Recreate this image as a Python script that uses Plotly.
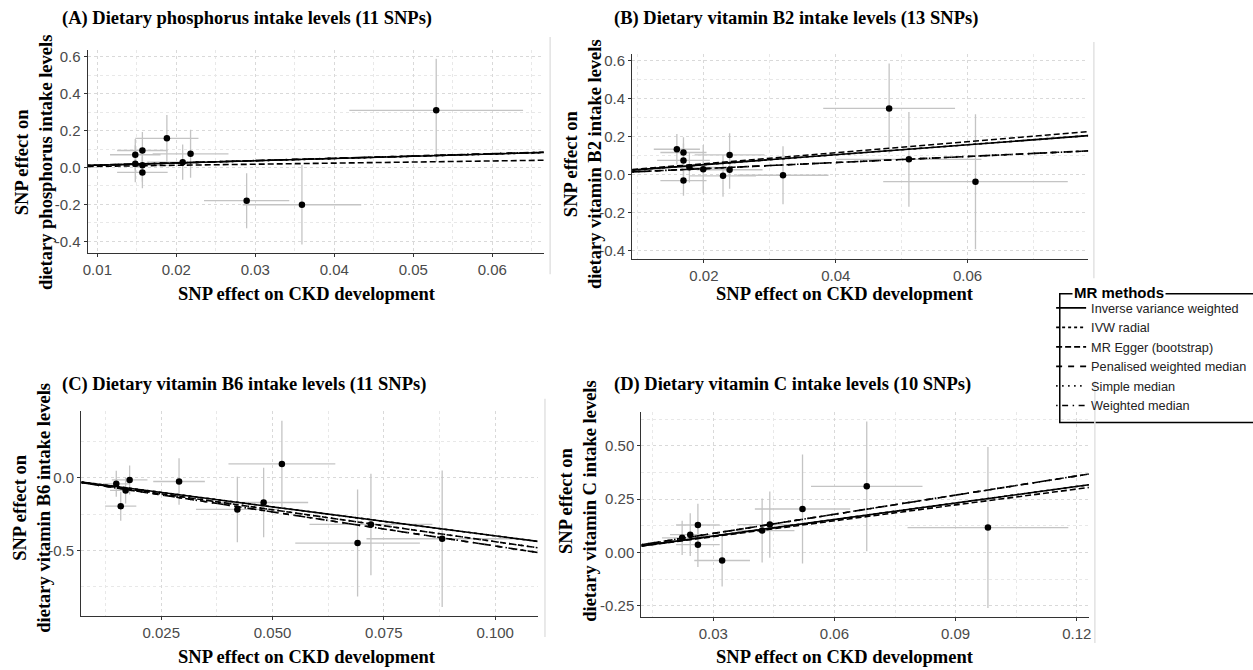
import plotly.graph_objects as go

W, H = 1253, 670

# ---------------- data ----------------
methods = ["Inverse variance weighted", "IVW radial", "MR Egger (bootstrap)",
           "Penalised weighted median", "Simple median", "Weighted median"]

# Panel A: dietary phosphorus
a_x = [0.0529, 0.0188, 0.0157, 0.0148, 0.0218, 0.0148, 0.0157, 0.0157, 0.0208, 0.0289, 0.0359]
a_y = [0.31, 0.158, 0.092, 0.069, 0.074, 0.020, 0.012, -0.027, 0.029, -0.18, -0.202]
a_xe = [0.011, 0.004, 0.0032, 0.0032, 0.0048, 0.0032, 0.0032, 0.0032, 0.0045, 0.0054, 0.0075]
a_ye = [0.28, 0.127, 0.10, 0.085, 0.13, 0.10, 0.09, 0.085, 0.095, 0.149, 0.216]
a_slopes = [1.22, 1.22, 0.59, 1.24, 1.22, 1.25]

# Panel B: dietary vitamin B2
b_x = [0.0481, 0.0511, 0.0612, 0.032, 0.0159, 0.0169, 0.0169, 0.0178, 0.0169, 0.0199, 0.0229, 0.0239, 0.0239]
b_y = [0.349, 0.081, -0.037, -0.003, 0.134, 0.117, 0.075, 0.039, -0.031, 0.029, -0.006, 0.104, 0.026]
b_xe = [0.010, 0.011, 0.014, 0.0069, 0.0035, 0.0035, 0.004, 0.004, 0.0035, 0.0035, 0.005, 0.0053, 0.005]
b_ye = [0.237, 0.25, 0.356, 0.153, 0.08, 0.08, 0.09, 0.08, 0.08, 0.127, 0.11, 0.115, 0.10]
b_slopes = [2.63, 2.63, 2.9, 1.6, 1.6, 1.6]

# Panel C: dietary vitamin B6
c_x = [0.0521, 0.029, 0.0179, 0.0149, 0.017, 0.0159, 0.0421, 0.048, 0.0691, 0.0721, 0.0881]
c_y = [0.096, -0.025, -0.014, -0.041, -0.087, -0.195, -0.218, -0.17, -0.45, -0.321, -0.42]
c_xe = [0.012, 0.0058, 0.004, 0.003, 0.0035, 0.0035, 0.0093, 0.010, 0.014, 0.0138, 0.017]
c_ye = [0.298, 0.16, 0.10, 0.09, 0.09, 0.10, 0.226, 0.24, 0.369, 0.35, 0.47]
c_slopes = [-4.0, -4.0, -4.4, -4.7, -4.4, -4.7]

# Panel D: dietary vitamin C
d_x = [0.068, 0.0521, 0.098, 0.044, 0.0421, 0.0322, 0.0262, 0.0243, 0.0223, 0.0262]
d_y = [0.31, 0.204, 0.117, 0.131, 0.103, -0.037, 0.129, 0.084, 0.069, 0.037]
d_xe = [0.0138, 0.0118, 0.0199, 0.008, 0.008, 0.0069, 0.0054, 0.005, 0.005, 0.0054]
d_ye = [0.304, 0.255, 0.377, 0.155, 0.15, 0.122, 0.10, 0.10, 0.08, 0.105]
d_slopes = [2.58, 2.58, 2.48, 2.99, 2.99, 2.99]

# tick values / labels
a_xticks = [0.01, 0.02, 0.03, 0.04, 0.05, 0.06]
a_xlabels = ["0.01", "0.02", "0.03", "0.04", "0.05", "0.06"]
ab_yticks = [-0.4, -0.2, 0.0, 0.2, 0.4, 0.6]
ab_ylabels = ["-0.4", "-0.2", "0.0", "0.2", "0.4", "0.6"]
b_xticks = [0.02, 0.04, 0.06]
b_xlabels = ["0.02", "0.04", "0.06"]
c_xticks = [0.025, 0.05, 0.075, 0.1]
c_xlabels = ["0.025", "0.050", "0.075", "0.100"]
c_yticks = [-0.5, 0.0]
c_ylabels = ["-0.5", "0.0"]
d_xticks = [0.03, 0.06, 0.09, 0.12]
d_xlabels = ["0.03", "0.06", "0.09", "0.12"]
d_yticks = [-0.25, 0.0, 0.25, 0.5]
d_ylabels = ["-0.25", "0.00", "0.25", "0.50"]

titles = ["(A) Dietary phosphorus intake levels (11 SNPs)",
          "(B) Dietary vitamin B2 intake levels (13 SNPs)",
          "(C) Dietary vitamin B6 intake levels (11 SNPs)",
          "(D) Dietary vitamin C intake levels (10 SNPs)"]
ylabels = ["SNP effect on<br>dietary phosphorus intake levels",
           "SNP effect on<br>dietary vitamin B2 intake levels",
           "SNP effect on<br>dietary vitamin B6 intake levels",
           "SNP effect on<br>dietary vitamin C intake levels"]
xlabel = "SNP effect on CKD development"

# ---------------- layout / styling ----------------
dashes = ["solid", "3px,3px", "6px,3px", "6px,6px", "1.5px,4.5px", "1.5px,4.5px,6px,4.5px"]

panels = [
    dict(x=a_x, y=a_y, xe=a_xe, ye=a_ye, slopes=a_slopes,
         xr=[0.00878, 0.06652], yr=[-0.465, 0.636],
         xt=a_xticks, xl=a_xlabels, yt=ab_yticks, yl=ab_ylabels, xminor=0.005, yminor=0.1,
         px=(83.2, 541.8), py=(48.3, 252.0),
         title_pos=(55.4, 17.0), xlab_pos=(303.9, 293.3), ylab_pos=(29.2, 161.5), sep=(548.2, 35, 273)),
    dict(x=b_x, y=b_y, xe=b_xe, ye=b_ye, slopes=b_slopes,
         xr=[0.00912, 0.0783], yr=[-0.442, 0.637],
         xt=b_xticks, xl=b_xlabels, yt=ab_yticks, yl=ab_ylabels, xminor=0.01, yminor=0.1,
         px=(630.7, 1089.3), py=(52.0, 257.3),
         title_pos=(610.0, 17.0), xlab_pos=(845.0, 293.3), ylab_pos=(580.8, 163.0), sep=(1095.0, 40, 277)),
    dict(x=c_x, y=c_y, xe=c_xe, ye=c_ye, slopes=c_slopes,
         xr=[0.00706, 0.10956], yr=[-0.954, 0.458],
         xt=c_xticks, xl=c_xlabels, yt=c_yticks, yl=c_ylabels, xminor=0.0125, yminor=0.25,
         px=(76.8, 535.7), py=(410.7, 616.0),
         title_pos=(55.4, 383.3), xlab_pos=(303.9, 657.3), ylab_pos=(27.4, 507.0), sep=(543.0, 398, 637)),
    dict(x=d_x, y=d_y, xe=d_xe, ye=d_ye, slopes=d_slopes,
         xr=[0.01222, 0.1230], yr=[-0.301, 0.656],
         xt=d_xticks, xl=d_xlabels, yt=d_yticks, yl=d_ylabels, xminor=0.015, yminor=0.125,
         px=(640.0, 1090.0), py=(411.7, 616.7),
         title_pos=(610.7, 383.3), xlab_pos=(845.0, 657.3), ylab_pos=(575.5, 500.0), sep=(1096.0, 380, 643)),
]

SERIF = "Liberation Serif, Times New Roman, serif"
SANS = "Liberation Sans, Arial, Helvetica, sans-serif"
GRID = "#d9d9d9"
MINOR = "#e8e8e8"
AXIS = "#333333"

fig = go.Figure()
layout = dict(width=W, height=H, margin=dict(l=0, r=0, t=0, b=0),
              paper_bgcolor="white", plot_bgcolor="white", showlegend=True)
annotations = []
shapes = []

for i, p in enumerate(panels):
    n = i + 1
    xa = "x" if n == 1 else f"x{n}"
    ya = "y" if n == 1 else f"y{n}"
    fig.add_trace(go.Scatter(
        x=p["x"], y=p["y"], mode="markers", xaxis=xa, yaxis=ya, showlegend=False,
        marker=dict(color="black", size=6.5),
        error_x=dict(type="data", array=p["xe"], color="#c4c4c4", thickness=1.3, width=0),
        error_y=dict(type="data", array=p["ye"], color="#c4c4c4", thickness=1.3, width=0),
        hoverinfo="skip"))
    for m, (name, b) in enumerate(zip(methods, p["slopes"])):
        xs = list(p["xr"])
        ys = [b * v for v in xs]
        fig.add_trace(go.Scatter(
            x=xs, y=ys, mode="lines", xaxis=xa, yaxis=ya, name=name,
            showlegend=(i == 0), legendrank=m + 1,
            line=dict(color="black", width=1.6, dash=dashes[m]), hoverinfo="skip"))

    axis_common = dict(showline=True, linecolor=AXIS, linewidth=1.3, mirror=False,
                       ticks="outside", ticklen=3, tickcolor=AXIS, tickwidth=1,
                       showgrid=True, gridcolor=GRID, griddash="dot", gridwidth=1,
                       zeroline=False, tickmode="array",
                       tickfont=dict(family=SANS, size=15, color="#4a4a4a"))
    xdict = dict(axis_common, domain=[p["px"][0] / W, p["px"][1] / W], range=p["xr"],
                 tickvals=p["xt"], ticktext=p["xl"], anchor=ya,
                 minor=dict(tickmode="linear", tick0=0, dtick=p["xminor"], showgrid=True,
                            gridcolor=MINOR, griddash="dot", ticks=""))
    ydict = dict(axis_common, domain=[1 - p["py"][1] / H, 1 - p["py"][0] / H], range=p["yr"],
                 tickvals=p["yt"], ticktext=p["yl"], anchor=xa,
                 minor=dict(tickmode="linear", tick0=0, dtick=p["yminor"], showgrid=True,
                            gridcolor=MINOR, griddash="dot", ticks=""))
    layout["xaxis" if n == 1 else f"xaxis{n}"] = xdict
    layout["yaxis" if n == 1 else f"yaxis{n}"] = ydict

    tx, ty = p["title_pos"]
    annotations.append(dict(text=f"<b>{titles[i]}</b>", x=tx / W, y=1 - ty / H, xref="paper", yref="paper",
                            xanchor="left", yanchor="middle", showarrow=False,
                            font=dict(family=SERIF, size=18.5, color="black")))
    lx, ly = p["xlab_pos"]
    annotations.append(dict(text=f"<b>{xlabel}</b>", x=lx / W, y=1 - ly / H, xref="paper", yref="paper",
                            xanchor="center", yanchor="middle", showarrow=False,
                            font=dict(family=SERIF, size=18.5, color="black")))
    yx, yy = p["ylab_pos"]
    annotations.append(dict(text=f"<b>{ylabels[i]}</b>", x=yx / W, y=1 - yy / H, xref="paper", yref="paper",
                            xanchor="center", yanchor="middle", showarrow=False, textangle=-90,
                            font=dict(family=SERIF, size=18.5, color="black")))
    sx, sy0, sy1 = p["sep"]
    shapes.append(dict(type="line", xref="paper", yref="paper", x0=sx / W, x1=sx / W,
                       y0=1 - sy0 / H, y1=1 - sy1 / H, line=dict(color="#e2e2e2", width=1.5)))

# legend box (fieldset style) and title
shapes.append(dict(type="rect", xref="paper", yref="paper", x0=1060.7 / W, x1=1262 / W,
                   y0=1 - 421.7 / H, y1=1 - 292.7 / H, line=dict(color="black", width=1.5),
                   fillcolor="rgba(0,0,0,0)", layer="below"))
annotations.append(dict(text="<b>MR methods</b>", x=1073 / W, y=1 - 291 / H, xref="paper", yref="paper",
                        xanchor="left", yanchor="middle", showarrow=False, bgcolor="white",
                        borderpad=1, font=dict(family=SANS, size=15, color="black")))

layout["legend"] = dict(x=1052 / W, y=1 - 292 / H, xanchor="left", yanchor="top",
                        bgcolor="rgba(0,0,0,0)", borderwidth=0, itemwidth=30, tracegroupgap=0,
                        font=dict(family=SANS, size=12.7, color="#222222"))
layout["annotations"] = annotations
layout["shapes"] = shapes
fig.update_layout(**layout)

fig.write_html("out.html", config={"displayModeBar": False},
               post_script="document.body.style.margin='0px';document.body.style.overflow='hidden';")
